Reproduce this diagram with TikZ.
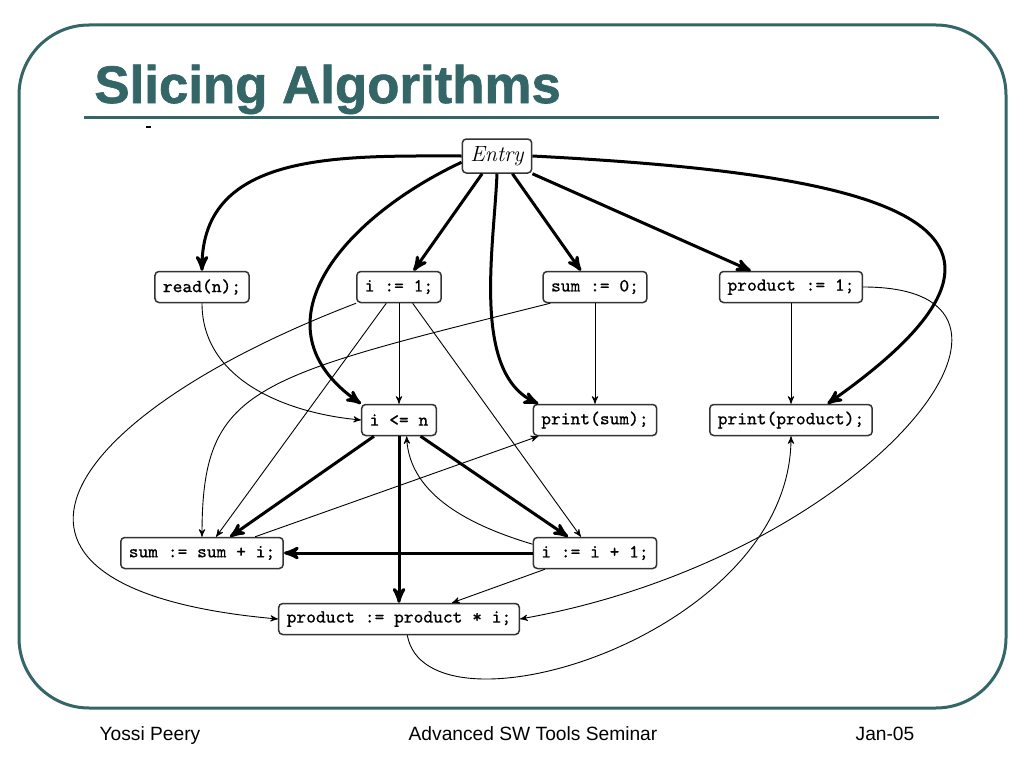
\documentclass[tikz,border=0pt]{standalone}
\usepackage{fontspec}
\newfontfamily\slidefont{Liberation Sans}
\newfontfamily\headfont{Liberation Sans Bold}[FakeBold=1.2]
\newfontfamily\codefont{Latin Modern Mono}[FakeBold=0.3]
\usetikzlibrary{arrows}
\definecolor{slideteal}{RGB}{52,102,104}
\tikzset{
x=0.5pt, y=0.5pt, % one unit is one pixel of the slide
>=stealth', % makes the arrow heads sharp
stmt/.style={draw=black!80, line width=0.75pt, rounded corners=2pt, fill=white, inner xsep=4pt, inner ysep=0pt, minimum height=15.5pt, font=\codefont\fontsize{9.3}{11}\selectfont}, % the statement boxes
ctrl/.style={->, line width=1.5pt}, % control dependence edges
data/.style={->, line width=0.45pt}, % data dependence edges
foot/.style={anchor=base, inner sep=0pt, font=\slidefont\fontsize{9.6}{11}\selectfont}, % footer texts
}

\begin{document}
\begin{tikzpicture}
    \useasboundingbox (0,0) rectangle (1024,768);
    \fill[white] (0,0) rectangle (1024,768);
    % slide frame and title
    \draw[slideteal, line width=1.5pt, rounded corners=35pt] (19,60) rectangle (1006,743);
    \node[anchor=base west, inner sep=0pt, text=slideteal, font=\headfont\fontsize{26.4}{30}\selectfont] (title) at (94,665) {Slicing Algorithms};
    \draw[slideteal, line width=1.5pt] (84,651) -- (939,651);
    \draw[line width=0.8pt] (146,641) -- (151,641);
    % statements
    \node[stmt, font=\fontsize{11}{13}\selectfont\itshape, minimum height=17pt] (entry) at (497,612) {Entry};
    \node[stmt] (rd) at (202,481) {read(n);};
    \node[stmt] (ione) at (399,481) {i := 1;};
    \node[stmt] (szero) at (595,481) {sum := 0;};
    \node[stmt] (pone) at (791,481) {product := 1;};
    \node[stmt] (cnd) at (399,348) {i <= n};
    \node[stmt] (psum) at (595,348) {print(sum);};
    \node[stmt] (pprod) at (791,348) {print(product);};
    \node[stmt] (sadd) at (202,215) {sum := sum + i;};
    \node[stmt] (incr) at (595,215) {i := i + 1;};
    \node[stmt] (pmul) at (399,149) {product := product * i;};
    % control dependences
    \draw[ctrl] (entry.west) .. controls +(-120,0) and +(0,120) .. (rd.north);
    \draw[ctrl] (entry.190) .. controls +(-121,-57) and +(-110,77) .. (cnd.north west);
    \draw[ctrl] (entry.230) -- (ione.48);
    \draw[ctrl] (entry.south) .. controls +(-3,-74) and +(-67,31) .. (psum.164);
    \draw[ctrl] (entry.311) -- (szero.131);
    \draw[ctrl] (entry.south east) -- (pone.158);
    \draw[ctrl] (entry.east) .. controls +(327,-17) and +(268,188) .. (pprod.24);
    \draw[ctrl] (cnd.213) -- (sadd.30);
    \draw[ctrl] (cnd.south) -- (pmul.north);
    \draw[ctrl] (cnd.-37) -- (incr.149);
    \draw[ctrl] (incr.west) -- (sadd.east);
    % data dependences
    \draw[data] (rd.south) .. controls +(0,-76) and +(-76,7) .. (cnd.west);
    \draw[data] (ione.232) -- (sadd.49);
    \draw[data] (ione.south) -- (cnd.north);
    \draw[data] (ione.-50) -- (incr.131);
    \draw[data] (ione.south west) .. controls +(-308,-118) and +(-329,29) .. (pmul.west);
    \draw[data] (szero.200) .. controls +(-300,-75) and +(0,150) .. (sadd.north);
    \draw[data] (szero.south) -- (psum.north);
    \draw[data] (pone.south) -- (pprod.north);
    \draw[data] (pone.east) .. controls +(220,0) and +(345,61) .. (pmul.east);
    \draw[data] (sadd.17) -- (psum.196);
    \draw[data] (incr.172) .. controls +(-60,18) and +(3,-60) .. (cnd.-65);
    \draw[data] (incr.198) -- (pmul.17);
    \draw[data] (pmul.-63) .. controls +(20,-110) and +(0,-200) .. (pprod.south);
    % footer
    \node[foot] (author) at (150,28) {Yossi Peery};
    \node[foot] (event) at (533,28) {Advanced SW Tools Seminar};
    \node[foot] (date) at (885,28) {Jan-05};
\end{tikzpicture}
\end{document}
